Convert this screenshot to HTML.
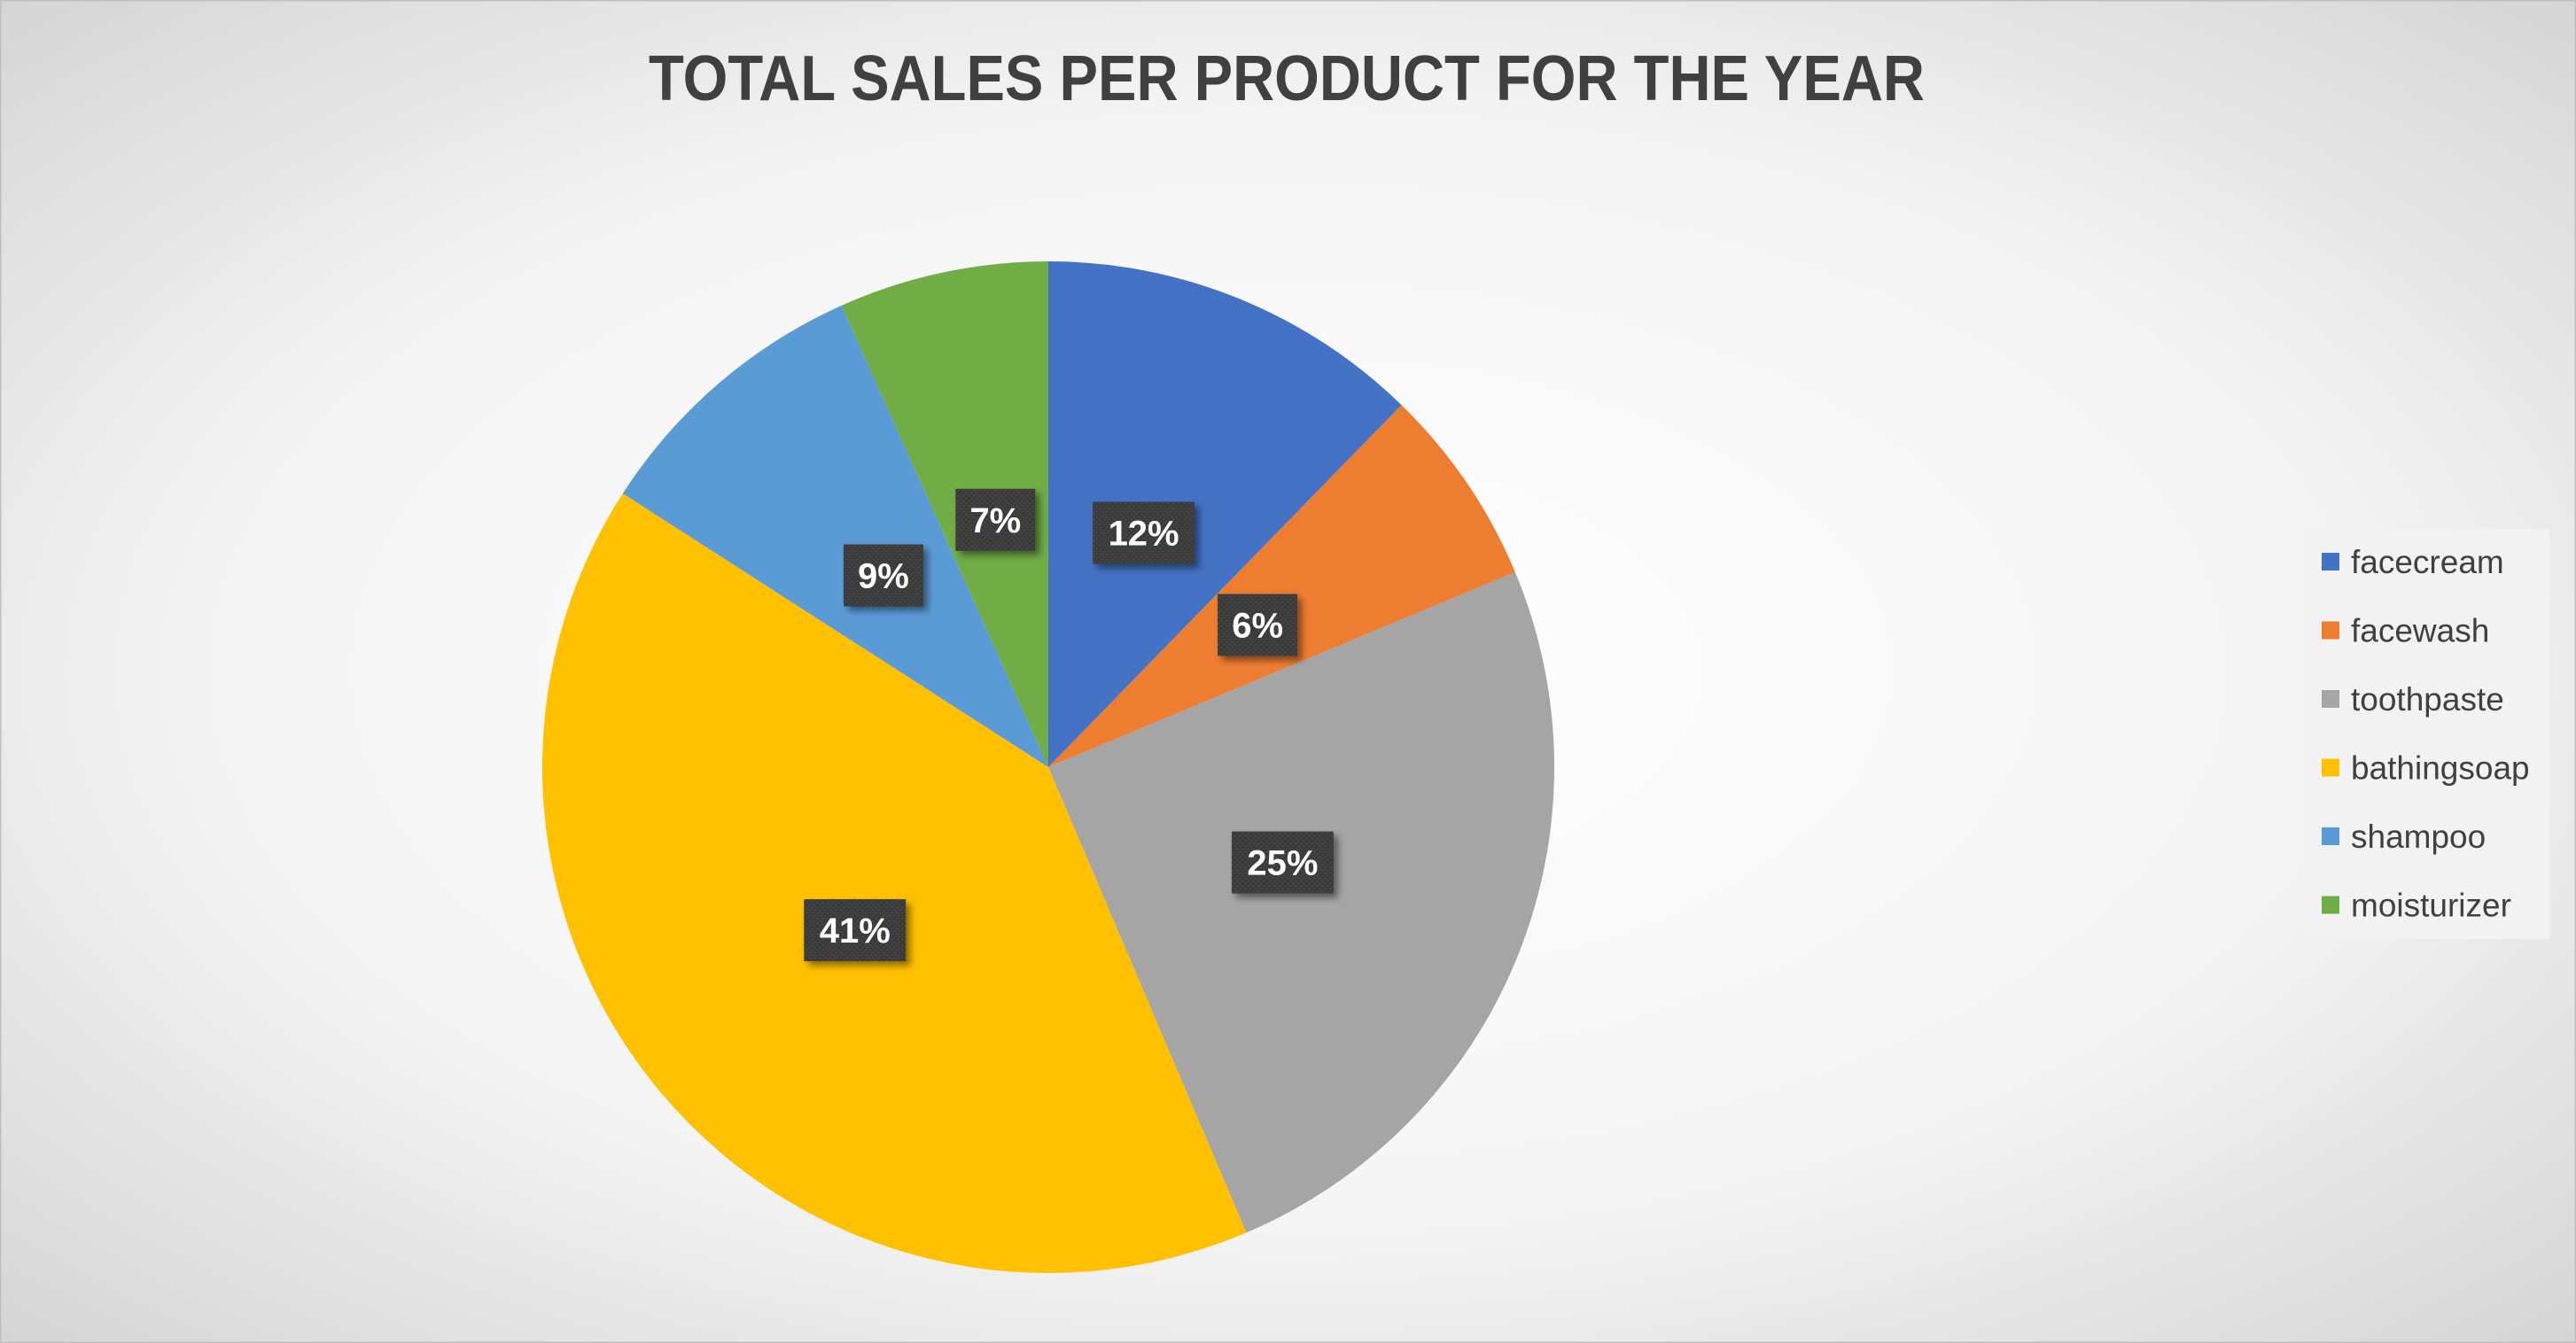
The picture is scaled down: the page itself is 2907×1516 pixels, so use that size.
<!DOCTYPE html>
<html><head><meta charset="utf-8"><style>
html,body{margin:0;padding:0;}
body{width:2907px;height:1516px;overflow:hidden;font-family:"Liberation Sans",sans-serif;}
svg{display:block;}
</style></head><body>
<svg id="chart" width="2907" height="1516" viewBox="0 0 2907 1516" xmlns="http://www.w3.org/2000/svg">
<defs>
<radialGradient id="bg" cx="50%" cy="50%" r="75%">
<stop offset="0" stop-color="#ffffff"/><stop offset="0.55" stop-color="#f4f4f4"/><stop offset="1" stop-color="#d0d0d0"/>
</radialGradient>
<pattern id="dots" width="6" height="6" patternUnits="userSpaceOnUse">
<rect width="6" height="6" fill="#3a3a3a"/><circle cx="1.5" cy="1.5" r="1" fill="#4e4e4e"/><circle cx="4.5" cy="4.5" r="1" fill="#4e4e4e"/>
</pattern>
<filter id="sh" x="-20%" y="-20%" width="150%" height="150%"><feDropShadow dx="5" dy="5" stdDeviation="4" flood-color="#000" flood-opacity="0.45"/></filter>
</defs>
<rect x="0" y="0" width="2907" height="1516" fill="url(#bg)" stroke="#bfbfbf" stroke-width="3"/>
<text x="1452" y="113" text-anchor="middle" font-size="72" font-weight="bold" fill="#404040" textLength="1440" lengthAdjust="spacingAndGlyphs">TOTAL SALES PER PRODUCT FOR THE YEAR</text>
<g id="slices"></g>
<g id="labels"></g>
<rect x="2599" y="597" width="278" height="463" fill="#f2f2f2"/>
<g id="legend"></g>
</svg>
<script>
const categories = ["facecream","facewash","toothpaste","bathingsoap","shampoo","moisturizer"];
const values = [12.3, 6.4, 24.9, 40.5, 9.2, 6.7];
const colors = ["#4472c4","#ed7d31","#a5a5a5","#ffc000","#5b9bd5","#70ad47"];
const NS="http://www.w3.org/2000/svg";
const cx=1183, cy=866, r=571;
const total=values.reduce((a,b)=>a+b,0);
const sl=document.getElementById('slices'), lb=document.getElementById('labels'), lg=document.getElementById('legend');
function pt(a,rr){return [cx+rr*Math.sin(a), cy-rr*Math.cos(a)];}
let acc=0;
values.forEach((v,i)=>{
  const a0=acc/total*2*Math.PI; acc+=v; const a1=acc/total*2*Math.PI;
  const p0=pt(a0,r), p1=pt(a1,r);
  const large=(a1-a0)>Math.PI?1:0;
  const p=document.createElementNS(NS,'path');
  p.setAttribute('d',`M${cx},${cy} L${p0[0]},${p0[1]} A${r},${r} 0 ${large} 1 ${p1[0]},${p1[1]} Z`);
  p.setAttribute('fill',colors[i]);
  
  
  sl.appendChild(p);
  const am=(a0+a1)/2, lp=pt(am,r*0.5);
  const g=document.createElementNS(NS,'g');
  
  
  const txt=Math.round(v/total*100)+'%';
  const w=txt.length>2?115:90;
  const rc=document.createElementNS(NS,'rect');
  rc.setAttribute('x',lp[0]-w/2); rc.setAttribute('y',lp[1]-35);
  rc.setAttribute('width',w); rc.setAttribute('height',70);
  rc.setAttribute('fill','url(#dots)'); rc.setAttribute('filter','url(#sh)');
  g.appendChild(rc);
  const t=document.createElementNS(NS,'text');
  t.setAttribute('x',lp[0]); t.setAttribute('y',lp[1]+14);
  t.setAttribute('text-anchor','middle'); t.setAttribute('font-size','40');
  t.setAttribute('font-weight','bold'); t.setAttribute('fill','#ffffff');
  t.textContent=txt; g.appendChild(t);
  lb.appendChild(g);
  const e=document.createElementNS(NS,'g');
  
  
  const y=634+i*77.5;
  const sq=document.createElementNS(NS,'rect');
  sq.setAttribute('x',2620); sq.setAttribute('y',y-10); sq.setAttribute('width',20); sq.setAttribute('height',20);
  sq.setAttribute('fill',colors[i]); e.appendChild(sq);
  const lt=document.createElementNS(NS,'text');
  lt.setAttribute('x',2653); lt.setAttribute('y',y+13);
  lt.setAttribute('font-size','37'); lt.setAttribute('fill','#404040');
  lt.textContent=categories[i]; e.appendChild(lt);
  lg.appendChild(e);
});
</script>
</body></html>
